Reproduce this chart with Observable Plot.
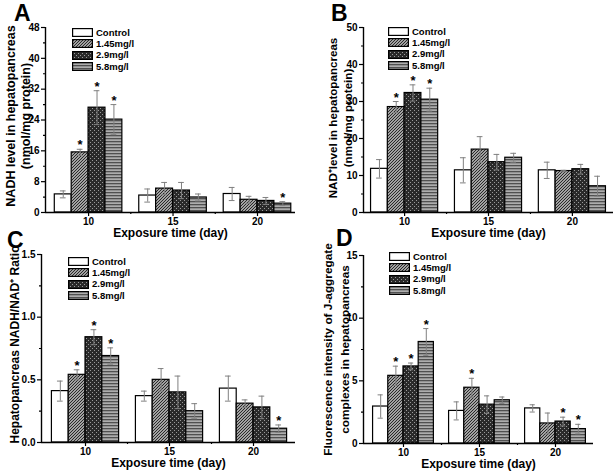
<!DOCTYPE html>
<html>
<head>
<meta charset="utf-8">
<script src="https://cdn.jsdelivr.net/npm/d3@7"></script>
<script src="https://cdn.jsdelivr.net/npm/@observablehq/plot@0.6"></script>
<style>
  body { margin: 0; background: #fff; font-family: "Liberation Sans", Arial, sans-serif; }
  #wrap { position: relative; width: 616px; height: 472px; overflow: hidden; }
  .panel { position: absolute; }
  .letter { position: absolute; font-weight: bold; font-size: 23px; line-height: 0.75; }
  .legend { position: absolute; font-weight: bold; font-size: 9.5px; line-height: 1; }
  .legend .row { display: flex; align-items: center; height: 11.3px; }
  .legend svg { display: block; margin-right: 3px; }
</style>
</head>
<body>
<svg width="0" height="0" style="position:absolute">
  <defs>
    <pattern id="p145" patternUnits="userSpaceOnUse" width="3" height="3">
      <rect width="3" height="3" fill="#d4d4d4"/>
      <path d="M-1,1 L1,-1 M0,3 L3,0 M2,4 L4,2" stroke="#1e1e1e" stroke-width="1.05"/>
    </pattern>
    <pattern id="p29" patternUnits="userSpaceOnUse" width="4" height="4">
      <rect width="4" height="4" fill="#2a2a2a"/>
      <rect x="0" y="0" width="1" height="1" fill="#9a9a9a"/>
      <rect x="2" y="2" width="1" height="1" fill="#9a9a9a"/>
    </pattern>
    <pattern id="p58" patternUnits="userSpaceOnUse" width="4" height="3">
      <rect width="4" height="3" fill="#adadad"/>
      <rect y="0" width="4" height="1.3" fill="#505050"/>
    </pattern>
  </defs>
</svg>
<div id="wrap"></div>
<script>
// ---------- data ----------
const days = [10, 15, 20];
const groups = ["Control", "1.45mg/l", "2.9mg/l", "5.8mg/l"];
const groupFills = ["#ffffff", "url(#p145)", "url(#p29)", "url(#p58)"];
const xTitle = "Exposure time (day)";

// A: NADH level (rows = days 10, 15, 20; columns = groups)
const meanA = [[4.7, 15.6, 27.2, 24.1], [4.4, 6.2, 5.7, 3.9], [4.8, 3.3, 3.0, 2.3]];
const errA  = [[0.9, 0.8, 4.4, 3.9], [1.7, 1.6, 2.1, 0.9], [1.7, 0.9, 0.9, 0.5]];
const starA = [[0, 1, 1, 1], [0, 0, 0, 0], [0, 0, 0, 1]];
const ticksA = [0, 8, 16, 24, 32, 40, 48];
const titleA = ["NADH level in hepatopancreas", "(nmol/mg protein)"];

// B: NAD+ level
const meanB = [[11.8, 28.5, 32.3, 30.5], [11.4, 17.0, 13.6, 14.8], [11.4, 11.2, 11.7, 7.1]];
const errB  = [[2.5, 1.5, 2.2, 3.1], [3.4, 3.5, 2.1, 1.2], [2.2, 0.2, 1.3, 2.7]];
const starB = [[0, 1, 1, 1], [0, 0, 0, 0], [0, 0, 0, 0]];
const ticksB = [0, 10, 20, 30, 40, 50];
const titleB = ["NAD\u207Alevel in hepatopancreas", "(nmol/mg protein)"];

// C: NADH/NAD+ ratio
const meanC = [[0.41, 0.54, 0.84, 0.69], [0.37, 0.50, 0.40, 0.25], [0.43, 0.31, 0.28, 0.11]];
const errC  = [[0.08, 0.04, 0.06, 0.065], [0.04, 0.09, 0.13, 0.06], [0.10, 0.03, 0.09, 0.03]];
const starC = [[0, 1, 1, 1], [0, 0, 0, 0], [0, 0, 0, 1]];
const ticksC = [0, 0.5, 1.0, 1.5];
const titleC = ["Hepatopancreas NADH/NAD\u207A Ratio"];

// D: J-aggregate fluorescence
const meanD = [[2.95, 5.4, 6.15, 8.1], [2.6, 4.45, 3.1, 3.45], [2.8, 1.6, 1.75, 1.15]];
const errD  = [[0.93, 0.77, 0.27, 1.07], [0.72, 0.75, 0.7, 0.26], [0.29, 0.83, 0.35, 0.38]];
const starD = [[0, 1, 1, 1], [0, 1, 0, 0], [0, 0, 1, 1]];
const ticksD = [0, 5, 10, 15];
const titleD = ["Fluorescence intensity of J-aggregate", "complexes in hepatopancreas"];

// ---------- layout ----------
const panels = [
  {letter: "A", left: 0, top: 0, mean: meanA, err: errA, star: starA, ticks: ticksA, fmt: d3.format("d"),
   m: [27, 13, 24, 45], xDomain: [7.45, 22.25], yTitle: titleA, dx: [-35, -20], tdy: -4, tfs: 12.5,
   letterPos: [14, 5], legendPos: [72, 27]},
  {letter: "B", left: 308, top: 0, mean: meanB, err: errB, star: starB, ticks: ticksB, fmt: d3.format("d"),
   m: [27, 3, 24, 55], xDomain: [7.55, 22.45], yTitle: titleB, dx: [-30, -15], tdy: -2, tfs: 11.6,
   letterPos: [331, 5], legendPos: [388, 26]},
  {letter: "C", left: 0, top: 236, mean: meanC, err: errC, star: starC, ticks: ticksC, fmt: d3.format(".1f"),
   m: [18, 13, 30, 41], xDomain: [7.38, 22.5], yTitle: titleC, dx: [-26], tdy: -4, tfs: 12,
   letterPos: [7, 232], legendPos: [68, 256]},
  {letter: "D", left: 308, top: 236, mean: meanD, err: errD, star: starD, ticks: ticksD, fmt: d3.format("d"),
   m: [19, 23, 29, 55], xDomain: [7.37, 22.5], yTitle: titleD, dx: [-35, -18], tdy: 0, tfs: 11.8,
   letterPos: [336, 230], legendPos: [389, 251]}
];

const wrap = document.getElementById("wrap");

for (const p of panels) {
  const rows = [];
  days.forEach((day, i) => groups.forEach((g, k) => rows.push({
    day, k, group: g, mean: p.mean[i][k], err: p.err[i][k], star: p.star[i][k],
    x1: day + k - 2, x2: day + k - 1, xc: day + k - 1.5
  })));
  const step = p.ticks[1] - p.ticks[0];
  const minorY = p.ticks.slice(0, -1).map(t => t + step / 2);
  const y0 = p.ticks[0], yMax = p.ticks[p.ticks.length - 1];

  const marks = [];
  groups.forEach((g, k) => {
    marks.push(Plot.rectY(rows.filter(r => r.k === k), {
      x1: "x1", x2: "x2", y1: 0, y2: "mean", fill: groupFills[k], stroke: "#000", strokeWidth: 1.2
    }));
  });
  marks.push(
    Plot.ruleX(rows, {x: "xc", y1: d => d.mean - d.err, y2: d => d.mean + d.err, stroke: "#808080", strokeWidth: 1}),
    Plot.ruleY(rows, {y: d => d.mean + d.err, x1: d => d.xc - 0.17, x2: d => d.xc + 0.17, stroke: "#808080", strokeWidth: 1}),
    Plot.ruleY(rows, {y: d => d.mean - d.err, x1: d => d.xc - 0.17, x2: d => d.xc + 0.17, stroke: "#808080", strokeWidth: 1}),
    Plot.text(rows.filter(d => d.star), {x: "xc", y: d => d.mean + d.err, text: () => "*", lineAnchor: "bottom", dy: 0, fontSize: 13}),
    Plot.ruleY([y0], {stroke: "#000", strokeWidth: 1.4}),
    Plot.ruleX([p.xDomain[0]], {stroke: "#000", strokeWidth: 1.4}),
    Plot.axisY({ticks: p.ticks, tickSize: 4, tickPadding: 2, tickFormat: p.fmt, label: null, strokeWidth: 1.2}),
    Plot.axisY({ticks: minorY, tickSize: 2, tickFormat: () => "", label: null, strokeWidth: 1.2}),
    Plot.axisX({ticks: days, tickSize: 4, tickPadding: 1, tickFormat: d3.format("d"), label: null, strokeWidth: 1.2}),
    Plot.axisX({ticks: [12.5, 17.5], tickSize: 2, tickFormat: () => "", label: null, strokeWidth: 1.2}),
    Plot.text([xTitle], {frameAnchor: "bottom", textAnchor: "middle", lineAnchor: "middle", dy: 21, fontSize: 12, text: d => d})
  );
  p.yTitle.forEach((line, li) => {
    marks.push(Plot.text([line], {
      frameAnchor: "left", textAnchor: "middle", lineAnchor: "middle", rotate: -90,
      dx: p.dx[li], dy: p.tdy, fontSize: p.tfs, text: d => d
    }));
  });

  const chart = Plot.plot({
    width: 308, height: 236,
    marginTop: p.m[0], marginRight: p.m[1], marginBottom: p.m[2], marginLeft: p.m[3],
    x: {type: "linear", domain: p.xDomain},
    y: {type: "linear", domain: [y0, yMax]},
    style: {fontFamily: "'Liberation Sans', Arial, sans-serif", fontWeight: "bold", fontSize: "10px", color: "#000", background: "transparent", overflow: "visible"},
    marks
  });
  chart.classList.add("panel");
  chart.style.left = p.left + "px";
  chart.style.top = p.top + "px";
  chart.style.position = "absolute";
  wrap.appendChild(chart);

  const letter = document.createElement("div");
  letter.className = "letter";
  letter.textContent = p.letter;
  letter.style.left = p.letterPos[0] + "px";
  letter.style.top = p.letterPos[1] + "px";
  wrap.appendChild(letter);

  const legend = document.createElement("div");
  legend.className = "legend";
  legend.style.left = p.legendPos[0] + "px";
  legend.style.top = p.legendPos[1] + "px";
  groups.forEach((g, k) => {
    const row = document.createElement("div");
    row.className = "row";
    row.innerHTML = `<svg width="21" height="9"><rect x="0.6" y="0.6" width="19.8" height="7.8" fill="${groupFills[k]}" stroke="#000" stroke-width="1.2"/></svg><span>${g}</span>`;
    legend.appendChild(row);
  });
  wrap.appendChild(legend);
}
</script>
</body>
</html>
